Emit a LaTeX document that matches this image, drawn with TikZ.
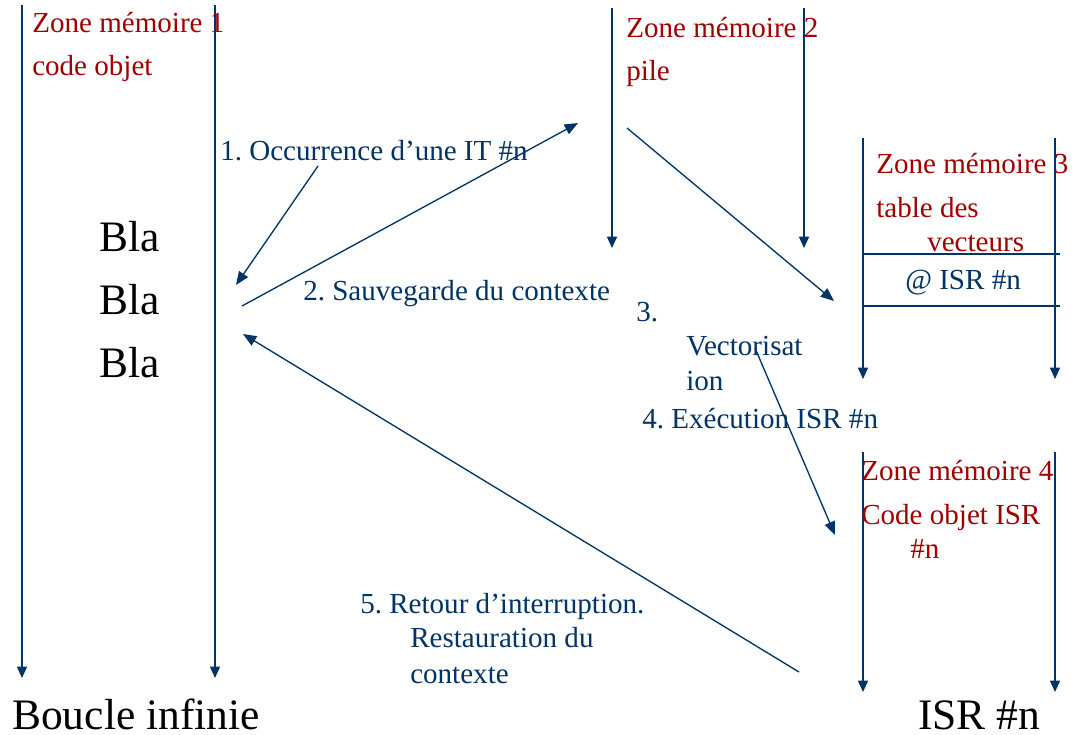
\documentclass[tikz,border=0pt]{standalone}
\usepackage{fontspec}
\setmainfont{Liberation Serif}
\usetikzlibrary{arrows.meta}
\definecolor{zblue}{RGB}{0,51,102}
\definecolor{zred}{RGB}{160,0,0}
\frenchspacing
\begin{document}
\begin{tikzpicture}[x=0.75pt,y=-0.75pt,
  txt/.style={anchor=base west,inner sep=0pt,font=\fontsize{21.8}{26}\selectfont},
  redtxt/.style={txt,text=zred},
  bluetxt/.style={txt,text=zblue},
  bigtxt/.style={anchor=base west,inner sep=0pt,font=\fontsize{32.6}{38}\selectfont,text=black},
  rail/.style={draw=zblue,line width=1.1pt,-{Triangle[length=8.5pt,width=7.5pt]}},
  sep/.style={draw=zblue,line width=1.1pt},
  flow/.style={draw=zblue,line width=1.0pt,-{Triangle[length=10pt,width=8pt]}},
  plain/.style={draw=zblue,line width=1.0pt}]
\useasboundingbox (0,0) rectangle (1074,735);

% rails coordinates
\coordinate (r1at) at (22,5);    \coordinate (r1ab) at (22,678);
\coordinate (r1bt) at (215,5);   \coordinate (r1bb) at (215,678);
\coordinate (r2at) at (612,8);   \coordinate (r2ab) at (612,248);
\coordinate (r2bt) at (804,8);   \coordinate (r2bb) at (804,248);
\coordinate (r3at) at (863,138); \coordinate (r3ab) at (863,379);
\coordinate (r3bt) at (1055,138);\coordinate (r3bb) at (1055,379);
\coordinate (r4at) at (863,452); \coordinate (r4ab) at (863,692);
\coordinate (r4bt) at (1055,452);\coordinate (r4bb) at (1055,692);
\coordinate (h1a) at (863,254);  \coordinate (h1b) at (1060,254);
\coordinate (h2a) at (863,306);  \coordinate (h2b) at (1060,306);

\draw[rail] (r1at) -- (r1ab);
\draw[rail] (r1bt) -- (r1bb);
\draw[rail] (r2at) -- (r2ab);
\draw[rail] (r2bt) -- (r2bb);
\draw[rail] (r3at) -- (r3ab);
\draw[rail] (r3bt) -- (r3bb);
\draw[rail] (r4at) -- (r4ab);
\draw[rail] (r4bt) -- (r4bb);
\draw[sep] (h1a) -- (h1b);
\draw[sep] (h2a) -- (h2b);

% flow arrows
\coordinate (a1s) at (318,166); \coordinate (a1e) at (236,285);
\coordinate (a2s) at (242,306); \coordinate (a2e) at (578,123);
\coordinate (a3s) at (627,128); \coordinate (a3e) at (834,301);
\coordinate (a4s) at (755,348); \coordinate (a4e) at (835,535);
\coordinate (a5s) at (799,672); \coordinate (a5e) at (243,334);
\draw[flow] (a1s) -- (a1e);
\draw[flow] (a2s) -- (a2e);
\draw[flow] (a3s) -- (a3e);
\draw[flow] (a4s) -- (a4e);
\draw[flow] (a5s) -- (a5e);

% zone labels
\node[redtxt] (z1a) at (32,33) {Zone mémoire 1};
\node[redtxt] (z1b) at (32,76) {code objet};
\node[redtxt] (z2a) at (626,38) {Zone mémoire 2};
\node[redtxt] (z2b) at (626,80) {pile};
\node[redtxt] (z3a) at (876,173) {Zone mémoire 3};
\node[redtxt] (z3b) at (876,217) {table des};
\node[redtxt] (z3c) at (927,251) {vecteurs};
\node[bluetxt] (isr) at (905,289) {@ ISR \#n};
\node[redtxt] (z4a) at (861,480) {Zone mémoire 4};
\node[redtxt] (z4b) at (861,524) {Code objet ISR};
\node[redtxt] (z4c) at (910,558) {\#n};

% step labels
\node[bluetxt] (s1) at (220,160) {1. Occurrence d’une IT \#n};
\node[bluetxt] (s2) at (303,300) {2. Sauvegarde du contexte};
\node[bluetxt] (s3a) at (636,321) {3.};
\node[bluetxt] (s3b) at (686,355) {Vectorisat};
\node[bluetxt] (s3c) at (686,390) {ion};
\node[bluetxt] (s4) at (642,428) {4. Exécution ISR \#n};
\node[bluetxt] (s5a) at (360,613) {5. Retour d’interruption.};
\node[bluetxt] (s5b) at (410,647) {Restauration du};
\node[bluetxt] (s5c) at (410,683) {contexte};

% big black text
\node[bigtxt] (b1) at (99,251) {Bla};
\node[bigtxt] (b2) at (99,314) {Bla};
\node[bigtxt] (b3) at (99,377) {Bla};
\node[bigtxt] (bi) at (12,729) {Boucle infinie};
\node[bigtxt] (isrn) at (918,729) {ISR \#n};
\end{tikzpicture}
\end{document}
